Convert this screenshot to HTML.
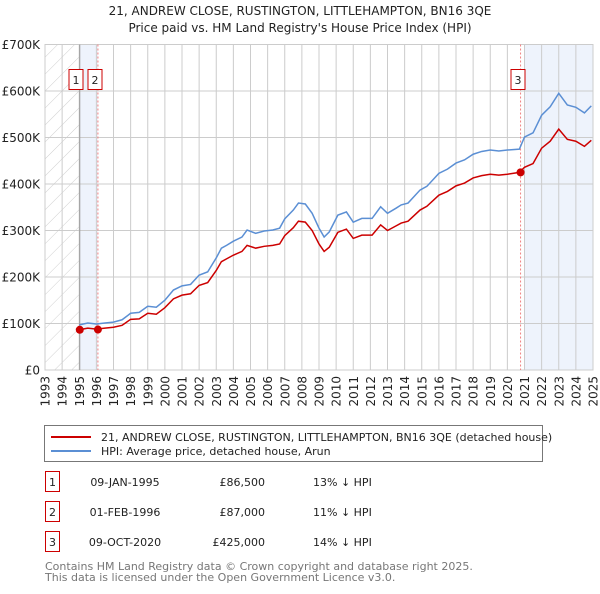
<!DOCTYPE html>
<html><head><meta charset="utf-8"><style>
body{margin:0;background:#fff;width:600px;height:590px;overflow:hidden;font-family:"DejaVu Sans","Liberation Sans",sans-serif;}
svg text{font-family:"DejaVu Sans","Liberation Sans",sans-serif;}
</style></head><body>
<svg id="chart" width="600" height="590" xmlns="http://www.w3.org/2000/svg">
<defs><pattern id="hatch" patternUnits="userSpaceOnUse" width="12" height="12" patternTransform="rotate(45)"><line x1="0" y1="0" x2="0" y2="12" stroke="#d0d0d0" stroke-width="1"/></pattern></defs>
<text x="300" y="15" text-anchor="middle" font-size="12" fill="#222">21, ANDREW CLOSE, RUSTINGTON, LITTLEHAMPTON, BN16 3QE</text>
<text x="300" y="32" text-anchor="middle" font-size="12" fill="#222">Price paid vs. HM Land Registry's House Price Index (HPI)</text>
<g id="plot"></g>
<g>
<rect x="44.5" y="425.5" width="498" height="36" fill="#fff" stroke="#777"/>
<line x1="51" y1="437" x2="91" y2="437" stroke="#cc0000" stroke-width="2"/>
<text x="101" y="441" font-size="11" fill="#222">21, ANDREW CLOSE, RUSTINGTON, LITTLEHAMPTON, BN16 3QE (detached house)</text>
<line x1="51" y1="451" x2="91" y2="451" stroke="#5b8fd4" stroke-width="2"/>
<text x="101" y="455" font-size="11" fill="#222">HPI: Average price, detached house, Arun</text>
</g>
<g font-size="11" fill="#222">
<rect x="45.5" y="471.5" width="14" height="20" fill="#fff" stroke="#cc0000"/><text x="52.5" y="486" text-anchor="middle">1</text>
<text x="125" y="486" text-anchor="middle">09-JAN-1995</text>
<text x="265" y="486" text-anchor="end">£86,500</text>
<text x="313" y="486">13% ↓ HPI</text>
<rect x="45.5" y="501.5" width="14" height="20" fill="#fff" stroke="#cc0000"/><text x="52.5" y="516" text-anchor="middle">2</text>
<text x="125" y="516" text-anchor="middle">01-FEB-1996</text>
<text x="265" y="516" text-anchor="end">£87,000</text>
<text x="313" y="516">11% ↓ HPI</text>
<rect x="45.5" y="531.5" width="14" height="20" fill="#fff" stroke="#cc0000"/><text x="52.5" y="546" text-anchor="middle">3</text>
<text x="125" y="546" text-anchor="middle">09-OCT-2020</text>
<text x="265" y="546" text-anchor="end">£425,000</text>
<text x="313" y="546">14% ↓ HPI</text>
</g>
<text x="45" y="570" font-size="11" fill="#777">Contains HM Land Registry data © Crown copyright and database right 2025.</text>
<text x="45" y="581" font-size="11" fill="#777">This data is licensed under the Open Government Licence v3.0.</text>
</svg>
<script>
const years=[1995.0,1995.5,1996.0,1996.5,1997.0,1997.5,1998.0,1998.5,1999.0,1999.5,2000.0,2000.5,2001.0,2001.5,2002.0,2002.5,2003.0,2003.3,2003.6,2004.0,2004.5,2004.8,2005.3,2005.8,2006.3,2006.7,2007.0,2007.5,2007.8,2008.2,2008.6,2009.0,2009.3,2009.6,2010.1,2010.6,2011.0,2011.5,2012.1,2012.6,2013.0,2013.5,2013.8,2014.2,2014.9,2015.3,2016.0,2016.5,2017.0,2017.5,2018.0,2018.5,2019.0,2019.5,2020.0,2020.7,2021.0,2021.5,2022.0,2022.5,2023.0,2023.5,2024.0,2024.5,2024.9];
const hpiValues=[97,101,99,101,103,108,122,124,137,135,150,172,181,184,204,211,241,262,268,277,286,301,294,299,301,305,325,344,359,357,337,305,286,297,333,340,318,326,326,351,337,348,355,359,387,395,423,432,445,452,464,470,473,471,473,475,501,510,548,566,595,570,565,553,568];
const priceValues=[86.5,90,88,90,92,96,109,110,122,120,134,153,161,164,182,188,214,233,239,247,255,268,262,266,268,271,289,306,320,318,300,271,255,264,296,303,283,290,290,312,300,310,316,320,344,352,376,384,396,402,413,418,421,419,421,425,436,444,477,492,518,496,492,481,494];
const saleYears=[1995.03,1996.09,2020.77];
const saleValues=[86.5,87,425];
const saleLabels=["1","2","3"];
const yTicks=[0,100,200,300,400,500,600,700];
const yTickLabels=["£0","£100K","£200K","£300K","£400K","£500K","£600K","£700K"];
const xTicks=[1993,1994,1995,1996,1997,1998,1999,2000,2001,2002,2003,2004,2005,2006,2007,2008,2009,2010,2011,2012,2013,2014,2015,2016,2017,2018,2019,2020,2021,2022,2023,2024,2025];

const X0=45,X1=593,Y0=370,Y1=44.5;
const xs=y=>X0+(y-1993)/(2025-1993)*(X1-X0);
const ys=v=>Y0-v/700*(Y0-Y1);
const NS="http://www.w3.org/2000/svg";
const plot=document.getElementById('plot');
function mk(tag,attrs,parent){const e=document.createElementNS(NS,tag);for(const k in attrs)e.setAttribute(k,attrs[k]);(parent||plot).appendChild(e);return e;}

let e;
e=mk('rect',{x:xs(1993),y:Y1,width:xs(1995.03)-xs(1993),height:Y0-Y1,fill:'url(#hatch)'});


e=mk('rect',{x:xs(saleYears[0]),y:Y1,width:xs(saleYears[1])-xs(saleYears[0]),height:Y0-Y1,fill:'#eef3fc'});


e=mk('rect',{x:xs(2021.0),y:Y1,width:xs(2025)-xs(2021.0),height:Y0-Y1,fill:'#eef3fc'});



yTicks.forEach((t,i)=>{
 e=mk('line',{x1:X0,x2:X1,y1:ys(t),y2:ys(t),stroke:'#ccc','stroke-width':1});
 
 
 e=mk('text',{x:40,y:ys(t)+4.5,'text-anchor':'end','font-size':12,fill:'#222'});
 e.textContent=yTickLabels[i];
 
 
});
xTicks.forEach(t=>{
 e=mk('line',{x1:xs(t),x2:xs(t),y1:Y1,y2:Y0,stroke:'#ccc','stroke-width':1});
 
 
 e=mk('text',{x:0,y:0,'text-anchor':'end','font-size':12,fill:'#222',transform:`translate(${xs(t)+4.5},376) rotate(-90)`});
 e.textContent=String(t);
 
 
});
e=mk('rect',{x:X0,y:Y1,width:X1-X0,height:Y0-Y1,fill:'none',stroke:'#ccc'});



e=mk('line',{x1:xs(saleYears[0]),x2:xs(saleYears[0]),y1:Y1,y2:Y0,stroke:'#999','stroke-width':1});


[1,2].forEach(i=>{
 e=mk('line',{x1:xs(saleYears[i]),x2:xs(saleYears[i]),y1:Y1,y2:Y0,stroke:'#f08080','stroke-width':1,'stroke-dasharray':'2,2'});
 
 
});

e=mk('polyline',{points:years.map((y,i)=>xs(y)+','+ys(hpiValues[i])).join(' '),fill:'none',stroke:'#5b8fd4','stroke-width':1.5});


e=mk('polyline',{points:years.map((y,i)=>xs(y)+','+ys(priceValues[i])).join(' '),fill:'none',stroke:'#cc0000','stroke-width':1.5});



const boxX=[76,95,518];
saleYears.forEach((y,i)=>{
 e=mk('circle',{cx:xs(y),cy:ys(saleValues[i]),r:4,fill:'#cc0000'});
 
 
 e=mk('rect',{x:boxX[i]-7,y:69.5,width:14,height:20,fill:'#fff',stroke:'#cc0000'});
 
 
 e=mk('text',{x:boxX[i],y:84,'text-anchor':'middle','font-size':11,fill:'#222'});
 e.textContent=saleLabels[i];
 
 
});
</script>
</body></html>
